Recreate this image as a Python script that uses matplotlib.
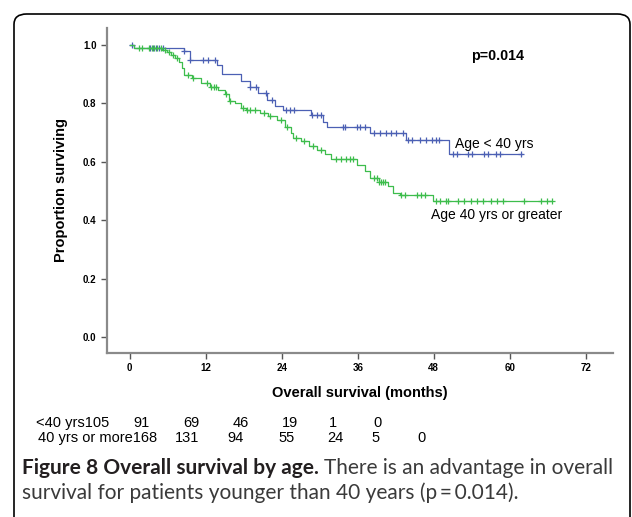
import numpy as np
import matplotlib
matplotlib.use("Agg")
import matplotlib.pyplot as plt
from matplotlib.patches import FancyBboxPatch

# Kaplan-Meier steps (months, proportion surviving)
young_t = [0, 0.6, 8.5, 9.5, 13.8, 14.6, 17.5, 19.0, 20.3, 21.6, 22.9, 24.2,
           28.6, 30.5, 31.2, 37.9, 43.6, 50.4]
young_s = [1.0, 0.99, 0.98, 0.948, 0.93, 0.90, 0.875, 0.855, 0.835, 0.812, 0.79,
           0.778, 0.761, 0.735, 0.718, 0.70, 0.676, 0.625]
young_end = 61.9
young_cens = [0.3, 3.2, 3.6, 4.1, 4.6, 5.3, 8.6, 9.5, 11.5, 12.3, 13.4, 19.0, 20.0,
              21.5, 22.5, 24.6, 25.3, 26.0, 28.8, 29.5, 30.2, 33.6, 34.0, 35.8,
              36.4, 37.2, 38.5, 39.5, 40.5, 41.3, 42.0, 43.2, 44.0, 44.6, 45.8,
              46.8, 47.7, 48.3, 48.9, 51.0, 51.6, 53.4, 54.0, 55.9, 56.5, 57.8,
              58.4, 61.8]

old_t = [0, 0.6, 5.1, 5.8, 6.5, 7.2, 7.8, 8.2, 8.6, 9.8, 11.3, 12.6, 14.0, 15.0,
         15.7, 16.6, 17.6, 18.3, 20.6, 21.9, 23.2, 24.5, 25.5, 25.8, 27.0, 28.3,
         29.5, 30.8, 31.7, 35.8, 37.1, 38.0, 39.3, 40.8, 41.5, 42.7, 47.8]
old_s = [1.0, 0.99, 0.983, 0.975, 0.965, 0.955, 0.942, 0.92, 0.898, 0.887, 0.87,
         0.857, 0.846, 0.83, 0.806, 0.80, 0.785, 0.778, 0.767, 0.755, 0.744, 0.72,
         0.70, 0.68, 0.67, 0.655, 0.641, 0.628, 0.61, 0.59, 0.567, 0.546, 0.53,
         0.516, 0.495, 0.486, 0.467]
old_end = 66.6
old_cens = [1.5, 2.0, 3.0, 3.5, 3.9, 4.3, 5.0, 5.5, 6.2, 6.8, 7.4, 9.2, 10.0, 12.2,
            12.8, 13.3, 13.6, 15.2, 15.9, 17.9, 18.5, 19.0, 19.8, 21.2, 22.2, 23.8,
            24.8, 26.3, 27.5, 29.0, 30.2, 32.5, 33.4, 34.2, 34.8, 35.3, 38.5, 39.0,
            39.4, 39.7, 40.0, 40.3, 42.8, 43.4, 45.3, 46.0, 46.6, 48.3, 49.0, 49.9,
            50.3, 51.9, 52.8, 53.8, 54.8, 55.8, 57.0, 58.0, 59.0, 62.2, 64.9, 65.8,
            66.6]

x_ticks = [0, 12, 24, 36, 48, 60, 72]
y_ticks = [0.0, 0.2, 0.4, 0.6, 0.8, 1.0]

# numbers at risk
risk_labels = ["<40 yrs", "40 yrs or more"]
risk_young = [105, 91, 69, 46, 19, 1, 0]
risk_old = [168, 131, 94, 55, 24, 5, 0]

BLUE = "#4c60b4"
GREEN = "#3dbd4c"
W, H = 632, 517


def px(x, y):
    return x / W, 1 - y / H


def km(ax, t, s, t_end, cens, color):
    t = np.append(t, t_end)
    s = np.append(s, s[-1])
    ax.step(t, s, where="post", color=color, lw=0.9)
    idx = np.searchsorted(t, cens, side="right") - 1
    ax.plot(cens, s[idx], ls="none", marker="+", ms=5, mew=0.9, color=color)


plt.rcParams["font.family"] = "Liberation Sans"
fig = plt.figure(figsize=(W / 100, H / 100), dpi=100)

# rounded frame around the figure panel
frame = FancyBboxPatch(px(14, 540), 616 / W, (540 - 14) / H,
                       boxstyle="round,pad=0,rounding_size=0.02",
                       transform=fig.transFigure, fill=False, ec="black", lw=1.2)
fig.patches.append(frame)

ax = fig.add_axes([107 / W, 1 - 353 / H, (613 - 107) / W, (353 - 28) / H])
km(ax, young_t, young_s, young_end, young_cens, BLUE)
km(ax, old_t, old_s, old_end, old_cens, GREEN)

ax.set_xlim(-3.6, 76.3)
ax.set_ylim(-0.053, 1.057)
ax.set_xticks(x_ticks)
ax.set_yticks(y_ticks)
ax.set_yticklabels([f"{v:.1f}" for v in y_ticks])
for side in ["top", "right"]:
    ax.spines[side].set_visible(False)
for side in ["left", "bottom"]:
    ax.spines[side].set_color("#8a8a8a")
    ax.spines[side].set_linewidth(1.6)
ax.tick_params(length=4.5, width=1, color="#555555", labelsize=7, pad=3)
for lab in ax.get_xticklabels() + ax.get_yticklabels():
    lab.set_fontweight("bold")

ax.set_ylabel("Proportion surviving", fontsize=10.5, fontweight="bold", labelpad=11)
ax.set_xlabel("Overall survival (months)", fontsize=10.5, fontweight="bold", labelpad=9)

ax.text(58.0, 0.963, "p=0.014", fontsize=10.3, fontweight="bold", ha="center", va="center")
ax.text(51.3, 0.66, "Age < 40 yrs", fontsize=10, ha="left", va="center")
ax.text(47.5, 0.42, "Age 40 yrs or greater", fontsize=10, ha="left", va="center")

# number-at-risk rows
fig.text(*px(36, 423), risk_labels[0] + str(risk_young[0]), fontsize=10.5,
         ha="left", va="center")
for x, n in zip([142, 191, 241, 290, 333, 378], risk_young[1:]):
    fig.text(*px(x, 423), str(n), fontsize=10.5, ha="center", va="center")
fig.text(*px(38, 438), risk_labels[1] + str(risk_old[0]), fontsize=10.5,
         ha="left", va="center")
for x, n in zip([187, 236, 287, 335, 376, 422], risk_old[1:]):
    fig.text(*px(x, 438), str(n), fontsize=10.5, ha="center", va="center")

# caption
cap_font = ["Lato", "DejaVu Sans"]
t1 = fig.text(*px(22, 468), "Figure 8 Overall survival by age.", fontsize=15,
              fontweight="bold", family=cap_font, color="#231f20", va="center")
fig.canvas.draw()
bb = t1.get_window_extent()
fig.text(bb.x1 / W + 5 / W, 1 - 468 / H, "There is an advantage in overall",
         fontsize=15, family=cap_font, color="#3a3a3a", va="center")
fig.text(*px(22, 493), "survival for patients younger than 40 years (p\u2009=\u20090.014).",
         fontsize=15, family=cap_font, color="#3a3a3a", va="center")

fig.savefig("out.png", dpi=100)
